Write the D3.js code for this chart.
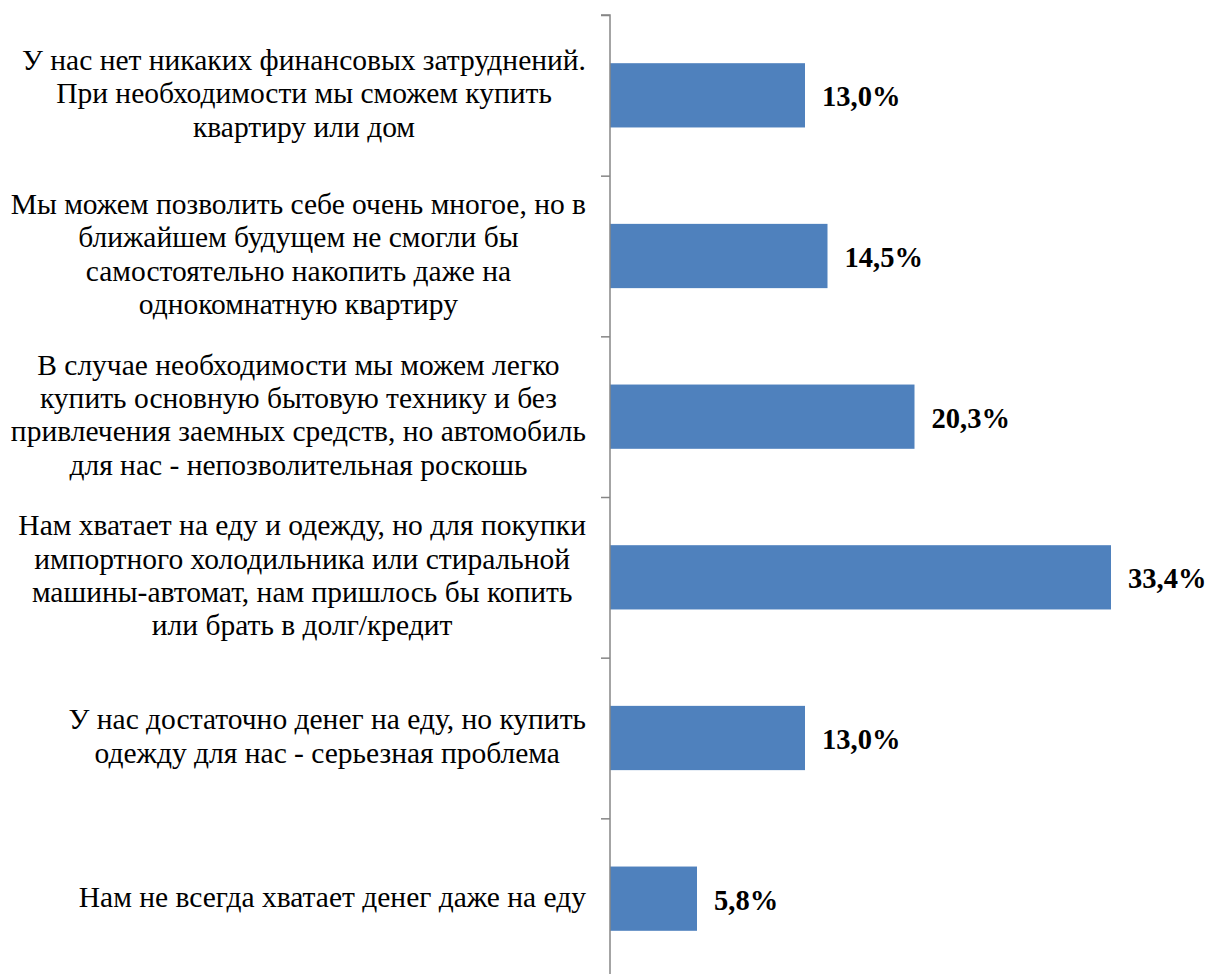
<!DOCTYPE html>
<html><head><meta charset="utf-8">
<script src="https://cdn.jsdelivr.net/npm/d3@7"></script>
<style>html,body{margin:0;padding:0;background:#fff;}</style>
</head><body>
<svg id="chart" width="1211" height="974"></svg>
<script>
const categories = [
  ["У нас нет никаких финансовых затруднений.", "При необходимости мы сможем купить", "квартиру или дом"],
  ["Мы можем позволить себе очень многое, но в", "ближайшем будущем не смогли бы", "самостоятельно накопить даже на", "однокомнатную квартиру"],
  ["В случае необходимости мы можем легко", "купить основную бытовую технику и без", "привлечения заемных средств, но автомобиль", "для нас - непозволительная роскошь"],
  ["Нам хватает на еду и одежду, но для покупки", "импортного холодильника или стиральной", "машины-автомат, нам пришлось бы копить", "или брать в долг/кредит"],
  ["У нас достаточно денег на еду, но купить", "одежду для нас - серьезная проблема"],
  ["Нам не всегда хватает денег даже на еду"]
];
const values = [13.0, 14.5, 20.3, 33.4, 13.0, 5.8];
const valueLabels = ["13,0%", "14,5%", "20,3%", "33,4%", "13,0%", "5,8%"];

const FONT = '"Tinos", "Liberation Serif", "Times New Roman", serif';
const svg = d3.select("#chart");
const x0 = 610, plotTop = 15, plotBottom = 979;
const x = d3.scaleLinear().domain([0, 33.4]).range([x0, x0 + 501]);
const y = d3.scaleBand().domain(d3.range(categories.length)).range([plotTop, plotBottom]).paddingInner(0.6).paddingOuter(0.3);

// bars
svg.selectAll("rect.bar").data(values).enter().append("rect")
  .attr("class", "bar")
  .attr("x", x(0)).attr("y", (d, i) => y(i))
  .attr("width", d => x(d) - x(0)).attr("height", y.bandwidth())
  .attr("fill", "#4F81BD");

// axis
const yAxisScale = d3.scaleLinear().domain([0, categories.length]).range([plotTop, plotBottom]);
const axis = d3.axisLeft(yAxisScale).ticks(categories.length).tickSize(9).tickFormat("");
const g = svg.append("g").attr("transform", `translate(${x0},0)`).call(axis);
g.select(".domain").attr("stroke", "#868686").attr("stroke-width", 1.5).attr("d", `M-9,${plotTop}H0V${plotBottom}`);
g.selectAll(".tick line").attr("stroke", "#868686").attr("stroke-width", 1.5);

// value labels
svg.selectAll("text.val").data(values).enter().append("text")
  .attr("class", "val")
  .attr("x", d => x(d) + 17)
  .attr("y", (d, i) => y(i) + y.bandwidth() / 2)
  .attr("dy", "0.39em")
  .style("font-family", FONT)
  .style("font-weight", "bold").style("font-size", "28.5px").attr("fill", "#000")
  .text((d, i) => valueLabels[i]);

// category labels
const lh = 33.4, fs = 29.5, rightEdge = 586;
categories.forEach((lines, i) => {
  const cy = y(i) + y.bandwidth() / 2;
  const grp = svg.append("g");
  const texts = lines.map((ln, j) => grp.append("text")
    .style("font-family", FONT)
    .style("font-size", fs + "px").attr("fill", "#000")
    .attr("text-anchor", "middle")
    .attr("y", cy + (j - (lines.length - 1) / 2) * lh)
    .attr("dy", "0.27em")
    .text(ln));
  const maxW = d3.max(texts, t => t.node().getComputedTextLength());
  texts.forEach(t => t.attr("x", rightEdge - maxW / 2));
});
</script>
</body></html>
